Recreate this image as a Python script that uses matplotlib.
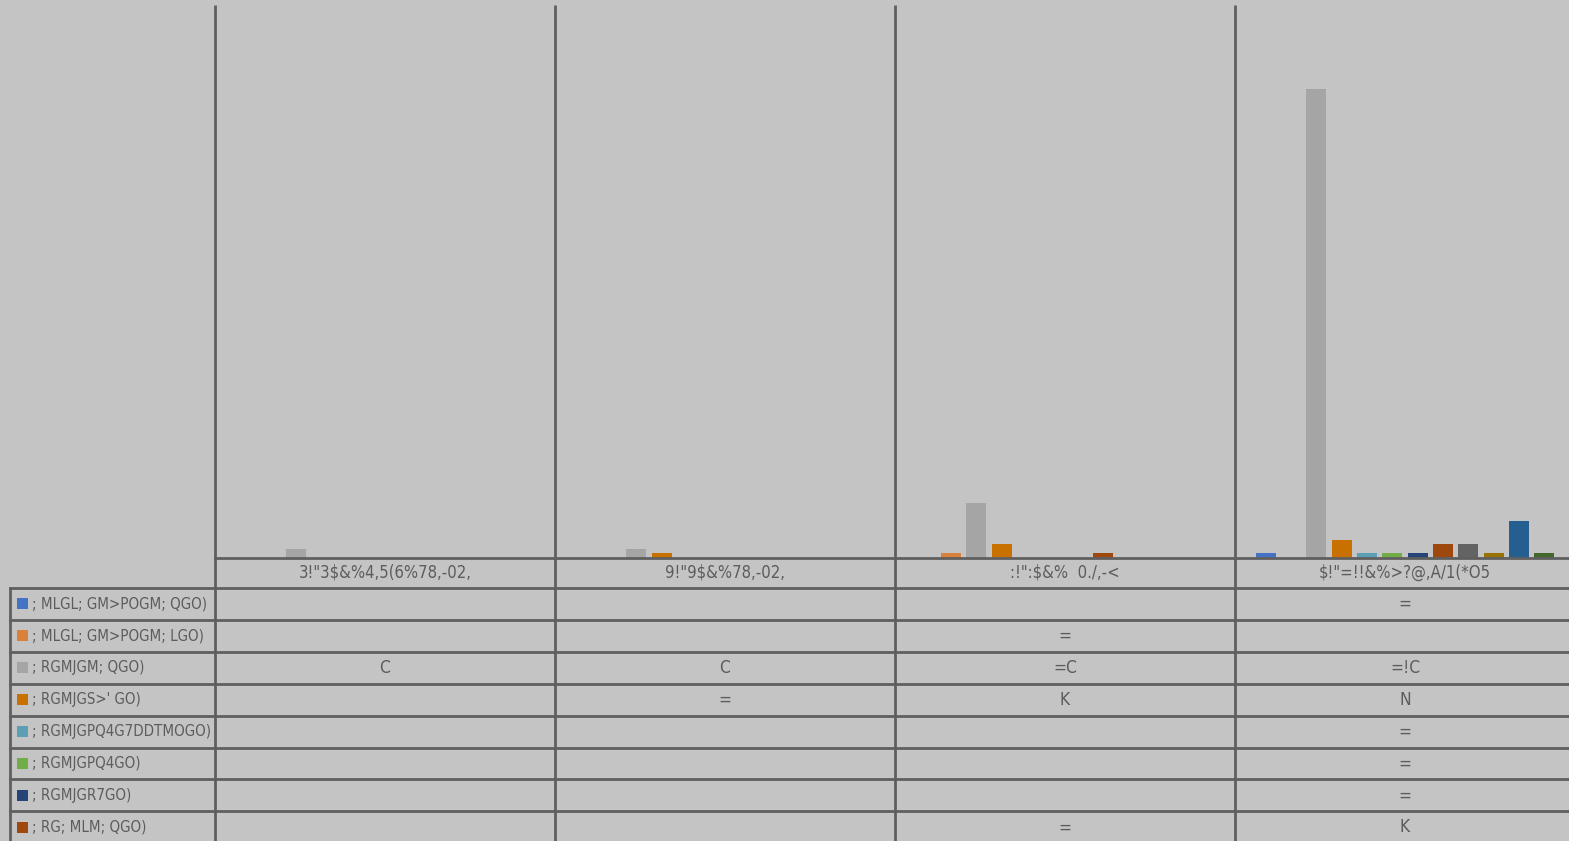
import matplotlib
matplotlib.use("Agg")
import matplotlib.pyplot as plt
from matplotlib.patches import Rectangle

# ---------------- data ----------------
categories = ['3!"3$&%4,5(6%78,-02,', '9!"9$&%78,-02,', ':!":$&%  0./,-<', '$!"=!!&%>?@,A/1(*O5']
series_names = ["; MLGL; GM>POGM; QGO)", "; MLGL; GM>POGM; LGO)", "; RGMJGM; QGO)",
                "; RGMJGS>' GO)", "; RGMJGPQ4G7DDTMOGO)", "; RGMJGPQ4GO)",
                "; RGMJGR7GO)", "; RG; MLM; QGO)", "s9", "s10", "s11", "s12"]
s1 = [0, 0, 0, 1]
s2 = [0, 0, 1, 0]
s3 = [2, 2, 12, 102]
s4 = [0, 1, 3, 4]
s5 = [0, 0, 0, 1]
s6 = [0, 0, 0, 1]
s7 = [0, 0, 0, 1]
s8 = [0, 0, 1, 3]
s9 = [0, 0, 0, 3]
s10 = [0, 0, 0, 1]
s11 = [0, 0, 0, 8]
s12 = [0, 0, 0, 1]
series_values = [s1, s2, s3, s4, s5, s6, s7, s8, s9, s10, s11, s12]
colors = ["#4472c4", "#d9803a", "#a5a5a5", "#c87000", "#5b9fb5", "#70ad47",
          "#264478", "#9e480e", "#636363", "#997300", "#255e91", "#43682b"]
# glyph map as displayed by the reference's font
digit_glyphs = {"0": "!", "1": "=", "2": "C", "3": "K", "4": "N"}

def fmt(v):
    if v == 0:
        return ""
    return "".join(digit_glyphs.get(c, c) for c in str(v))

# ---------------- layout ----------------
W, H = 1569, 841
BG = "#c4c4c4"
LINE = "#5f5f5f"
TXT = "#5c5c5c"
BASEKW = dict(color=TXT, family=["DejaVu Sans"], fontstretch="condensed")

fig = plt.figure(figsize=(W / 100, H / 100), dpi=100, facecolor=BG)

x0, x_end = 215, 1575
y_top, y_base = 5, 558
ax = fig.add_axes([x0 / W, (H - y_base) / H, (x_end - x0) / W, (y_base - y_top) / H])
ax.set_facecolor(BG)
ax.patch.set_alpha(0)
n = len(series_values)
step = 0.0744
width = 0.059
for j, vals in enumerate(series_values):
    xs = [i + (j - (n - 1) / 2) * step for i in range(len(categories))]
    ax.bar(xs, vals, width=width, color=colors[j], edgecolor="none")
ax.set_xlim(-0.5, len(categories) - 0.5)
ax.set_ylim(0, 120.3)
ax.axis("off")

# overlay in pixel coordinates for the data table
ov = fig.add_axes([0, 0, 1, 1])
ov.set_xlim(0, W)
ov.set_ylim(H, 0)
ov.axis("off")
ov.patch.set_alpha(0)

col_w = (x_end - x0) / len(categories)
col_edges = [x0 + k * col_w for k in range(len(categories) + 1)]
legend_left = 10
header_top, header_bot = y_base, 588
row_h = 31.9
row_edges = [header_bot + r * row_h for r in range(n + 1)]

lw = 2.0
for xe in col_edges:
    ov.plot([xe, xe], [y_top, row_edges[-1]], color=LINE, lw=lw, solid_capstyle="butt")
ov.plot([legend_left, legend_left], [header_bot, row_edges[-1]], color=LINE, lw=lw)
ov.plot([x0, x_end], [y_base, y_base], color=LINE, lw=lw)
for ye in row_edges:
    ov.plot([legend_left, x_end], [ye, ye], color=LINE, lw=lw)

for i, c in enumerate(categories):
    ov.text((col_edges[i] + col_edges[i + 1]) / 2, (header_top + header_bot) / 2, c,
            ha="center", va="center", fontsize=12, **BASEKW)

for j in range(n):
    if row_edges[j] >= H:
        continue  # rows below the visible area are cropped away in the reference
    yc = (row_edges[j] + row_edges[j + 1]) / 2
    ov.add_patch(Rectangle((17, yc - 5.5), 11, 11, color=colors[j], lw=0))
    ov.text(32, yc, series_names[j], ha="left", va="center", fontsize=10.8, **BASEKW)
    for i in range(len(categories)):
        t = fmt(series_values[j][i])
        if t:
            ov.text((col_edges[i] + col_edges[i + 1]) / 2, yc, t, ha="center",
                    va="center", fontsize=12.5, **BASEKW)

fig.savefig("out.png", dpi=100, facecolor=BG)
